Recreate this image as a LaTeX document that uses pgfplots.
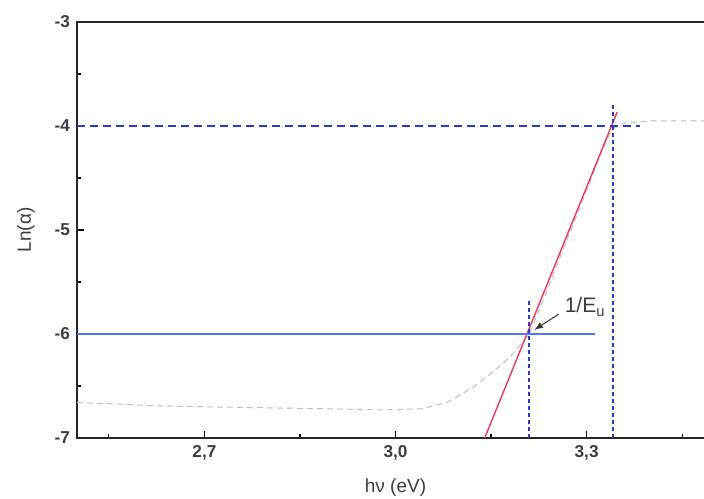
\documentclass[border=0pt]{standalone}
\usepackage{fontspec}
\setmainfont{Liberation Sans}
\usepackage{pgfplots}
\pgfplotsset{compat=1.18}

\definecolor{dblue}{RGB}{40,60,200}
\definecolor{lblue}{RGB}{80,120,250}
\definecolor{fitred}{RGB}{230,60,90}
\definecolor{tickgray}{RGB}{60,60,70}

\begin{document}
\begin{tikzpicture}
  \begin{axis}[
      name=ax,
      scale only axis,
      width=318.5pt,
      height=208pt,
      xmin=2.5, xmax=3.5,
      ymin=-7, ymax=-3,
      xtick={2.7,3.0,3.3},
      xticklabels={{2,7},{3,0},{3,3}},
      minor xtick={2.55,2.85,3.15,3.45},
      ytick={-7,-6,-5,-4,-3},
      minor ytick={-6.5,-5.5,-4.5,-3.5},
      xtick pos=bottom,
      ytick pos=left,
      tick align=inside,
      major tick length=3.5pt,
      minor tick length=2pt,
      tick style={line width=0.6pt,black},
      axis line style={line width=1pt,black!85},
      ticklabel style={font=\fontsize{8.6}{9}\selectfont\bfseries,text=tickgray},
      /pgf/number format/assume math mode=true,
      xlabel={hν (eV)},
      ylabel={Ln(α)},
      label style={font=\fontsize{9.5}{10}\selectfont,text=tickgray},
      xlabel style={yshift=-2.5pt},
      ylabel style={yshift=3pt},
      clip=false,
    ]
    % measured data (faint)
    \addplot[gray!50, line width=0.5pt, dash pattern=on 3pt off 2pt] coordinates {
      (2.50,-6.66) (2.55,-6.67) (2.62,-6.69) (2.70,-6.70) (2.80,-6.71)
      (2.90,-6.72) (2.98,-6.73) (3.04,-6.72) (3.08,-6.66) (3.12,-6.52)
      (3.15,-6.38) (3.18,-6.22) (3.21,-6.00) (3.24,-5.55) (3.27,-5.08)
      (3.30,-4.62) (3.32,-4.30) (3.34,-4.03) (3.36,-3.97) (3.40,-3.95)
      (3.45,-3.95) (3.50,-3.95)
    };
    % linear fit
    \addplot[fitred, line width=0.7pt] coordinates {(3.14,-7) (3.348,-3.865)};
    % guide lines
    \addplot[lblue, line width=0.7pt] coordinates {(2.5,-6) (3.313,-6)};
    \addplot[dblue, line width=0.8pt, dash pattern=on 4pt off 2.5pt] coordinates {(2.5,-4) (3.384,-4)};
    \addplot[dblue, line width=1pt, dash pattern=on 2pt off 1.5pt] coordinates {(3.209,-7) (3.209,-5.67)};
    \addplot[dblue, line width=1pt, dash pattern=on 2pt off 1.5pt] coordinates {(3.341,-7) (3.341,-3.77)};
    % annotation
    \draw[-latex, black!80, line width=0.5pt] (axis cs:3.256,-5.81) -- (axis cs:3.218,-5.96);
    \node[anchor=west, font=\fontsize{10.5}{11}\selectfont, text=tickgray, inner sep=1pt]
      at (axis cs:3.262,-5.74) {1/E\textsubscript{u}};
  \end{axis}
  \pgfresetboundingbox
  \path[use as bounding box] ([shift={(-38.5pt,-30.5pt)}]ax.south west)
    rectangle ([shift={(-5pt,11pt)}]ax.north east);
\end{tikzpicture}
\end{document}
